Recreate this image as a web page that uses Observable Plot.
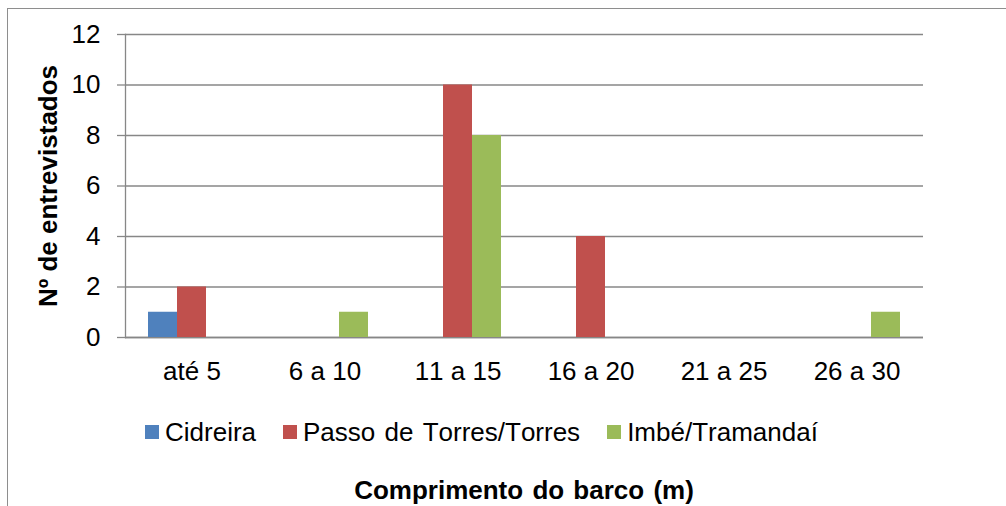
<!DOCTYPE html>
<html>
<head>
<meta charset="utf-8">
<script src="https://cdn.jsdelivr.net/npm/d3@7"></script>
<script src="https://cdn.jsdelivr.net/npm/@observablehq/plot@0.6"></script>
<style>
  html, body { margin: 0; padding: 0; background: #fff; overflow: hidden; }
  #wrap { position: relative; width: 1006px; height: 506px; overflow: hidden; background: #fff;
          font-family: "Liberation Sans", Arial, sans-serif; color: #000; font-kerning: none; }
  #frame { position: absolute; left: 7px; top: 8px; width: 1100px; height: 600px;
           border: 1.3px solid #8e8e8e; box-sizing: border-box; }
  #chart { position: absolute; left: 0; top: 0; }
  #ytitle { position: absolute; left: 48px; top: 186px; transform: translate(-50%, -50%) rotate(-90deg);
            white-space: nowrap; font-weight: bold; font-size: 26px; line-height: 26px; }
  #legend { position: absolute; left: 145px; top: 419px; display: flex; gap: 27px; font-size: 26px; line-height: 26px; word-spacing: 2px; }
  .item { display: flex; align-items: center; white-space: nowrap; }
  .sw { width: 14px; height: 14px; margin-right: 6px; }
  #xtitle { position: absolute; left: 124px; width: 800px; top: 477px; text-align: center;
            font-weight: bold; font-size: 26px; line-height: 26px; white-space: nowrap; word-spacing: 2px; }
</style>
</head>
<body>
<div id="wrap">
  <div id="frame"></div>
  <div id="chart"></div>
  <div id="ytitle"></div>
  <div id="legend"></div>
  <div id="xtitle"></div>
</div>
<script>
const categories = ["até 5", "6 a 10", "11 a 15", "16 a 20", "21 a 25", "26 a 30"];
const series = ["Cidreira", "Passo de Torres/Torres", "Imbé/Tramandaí"];
const cidreira = [1, 0, 0, 0, 0, 0];
const passoTorres = [2, 0, 10, 4, 0, 0];
const imbeTramandai = [0, 1, 8, 0, 0, 1];
const colors = ["#4F81BD", "#C0504D", "#9BBB59"];
const yTicks = [0, 2, 4, 6, 8, 10, 12];
const yTitle = "Nº de entrevistados";
const xTitle = "Comprimento do barco (m)";

const values = [cidreira, passoTorres, imbeTramandai];
const data = [];
categories.forEach((c, i) => {
  series.forEach((s, j) => data.push({category: c, series: s, value: values[j][i]}));
});

const grid = "#878787";
const chart = Plot.plot({
  width: 1006,
  height: 400,
  marginLeft: 124,
  marginRight: 82,
  marginTop: 34,
  marginBottom: 63,
  style: {fontFamily: '"Liberation Sans", Arial, sans-serif', fontSize: "26px", color: "#000", background: "transparent", fontKerning: "none"},
  fx: {domain: categories, padding: 0, label: null, axis: null},
  x: {domain: series, paddingInner: 0, paddingOuter: 0.76, axis: null},
  y: {domain: [0, 12], axis: null},
  color: {domain: series, range: colors},
  marks: [
    Plot.gridY(yTicks, {stroke: grid, strokeOpacity: 1, strokeWidth: 1.3}),
    Plot.ruleY([0], {stroke: grid, strokeWidth: 1.3}),
    Plot.barY(data, {fx: "category", x: "series", y: "value", fill: "series", inset: 0}),
    Plot.frame({anchor: "left", facetAnchor: "left", stroke: grid, strokeWidth: 1.3}),
    Plot.axisY(yTicks, {tickSize: 8, tickPadding: 17, stroke: grid, strokeWidth: 1.3, fontSize: 26, label: null, tickFormat: d => String(d)}),
    Plot.axisFx({anchor: "bottom", tickSize: 0, tickPadding: 24, fontSize: 26, label: null})
  ]
});
document.getElementById("chart").appendChild(chart);

document.getElementById("ytitle").textContent = yTitle;
document.getElementById("xtitle").textContent = xTitle;
const legend = document.getElementById("legend");
series.forEach((s, j) => {
  const it = document.createElement("div");
  it.className = "item";
  const sw = document.createElement("span");
  sw.className = "sw";
  sw.style.background = colors[j];
  const t = document.createElement("span");
  t.textContent = s;
  it.appendChild(sw);
  it.appendChild(t);
  legend.appendChild(it);
});
</script>
</body>
</html>
